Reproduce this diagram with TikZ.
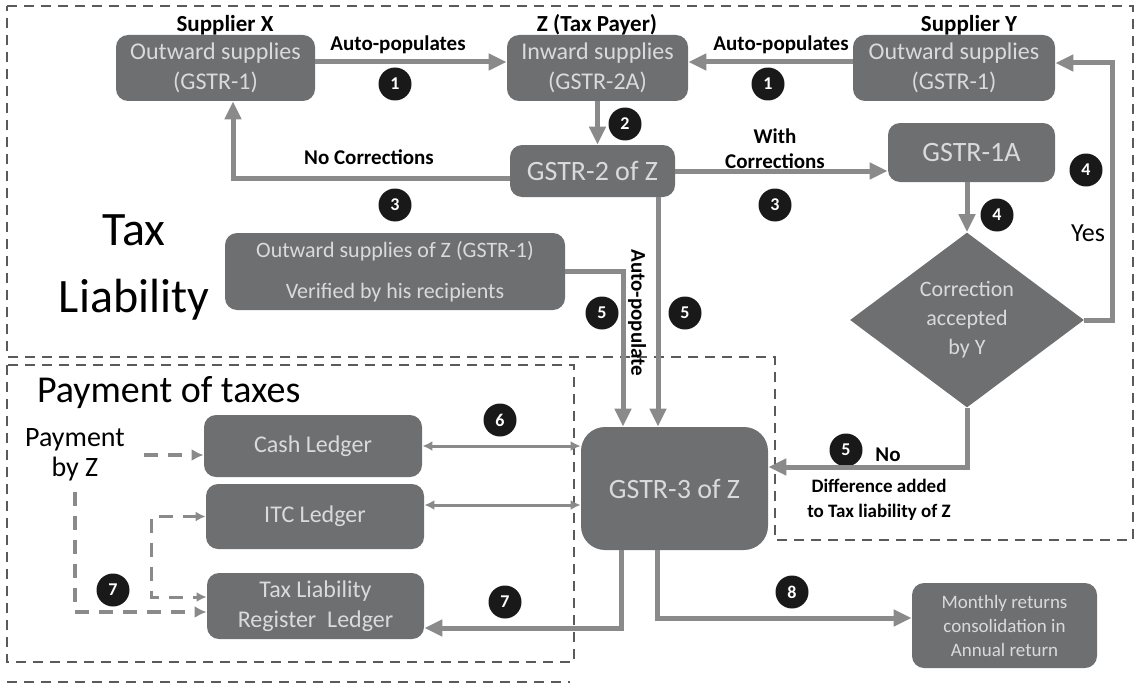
\documentclass[tikz,border=0pt]{standalone}
\usepackage{fontspec}
\setmainfont{Carlito}
\usepackage{tikz}
\usetikzlibrary{arrows.meta,positioning,shapes.geometric,calc}
\definecolor{gstBox}{HTML}{6E6F71}
\definecolor{gstText}{HTML}{DADADA}
\definecolor{gstLine}{HTML}{8A8A8A}
\definecolor{gstDash}{HTML}{5A5A5A}

\begin{document}
\begin{tikzpicture}[x=0.5pt, y=-0.5pt,
  box/.style={fill=gstBox, rounded corners=6pt, text=gstText, align=center, inner sep=0pt, font=\fontsize{12}{15}\selectfont},
  bigbox/.style={box, font=\fontsize{14}{16}\selectfont},
  decision/.style={diamond, fill=gstBox, text=gstText, align=center, inner sep=0pt, font=\fontsize{11}{14.5}\selectfont, minimum width=117pt, minimum height=87.5pt},
  lbl/.style={font=\bfseries\fontsize{10.5}{12.5}\selectfont, align=center, inner sep=0pt},
  num/.style={circle, fill=black!90, text=white, font=\bfseries\fontsize{9}{9}\selectfont, minimum size=16.5pt, inner sep=0pt},
  arr/.style={-{Triangle[length=9pt,width=8pt]}, line width=2.5pt, color=gstLine},
  twoarr/.style={{Latex[length=5pt,width=5pt]}-{Latex[length=5pt,width=5pt]}, line width=1.5pt, color=gstLine},
  payarr/.style={-{Latex[length=6pt,width=6pt]}, line width=2pt, color=gstLine, dash pattern=on 7pt off 5pt},
  region/.style={draw=gstDash, line width=1pt, dash pattern=on 5pt off 3.5pt}
]
  \useasboundingbox (0,0) rectangle (1139,690);

  % dashed regions
  \draw[region] (7,6) -- (1133,6) -- (1133,540) -- (775,540) -- (775,357) -- (7,357) -- cycle;
  \draw[region] (7,365) rectangle (574,662);
  \draw[region] (7,682) -- (570,682);

  % boxes
  \node[box, minimum width=99.5pt, minimum height=33pt] (supX) at (215.5,68) {Outward supplies\\(GSTR-1)};
  \node[box, minimum width=90.5pt, minimum height=33pt] (inward) at (597.5,68) {Inward supplies\\(GSTR-2A)};
  \node[box, minimum width=101pt, minimum height=33pt] (supY) at (954,68) {Outward supplies\\(GSTR-1)};
  \node[bigbox, minimum width=82.5pt, minimum height=26pt] (gstr2) at (592.5,171) {GSTR-2 of Z};
  \node[bigbox, minimum width=83.5pt, minimum height=29.5pt] (gstr1a) at (971.5,152.5) {GSTR-1A};
  \node[decision] (accept) at (967,320) {Correction\\accepted\\by Y};
  \node[box, minimum width=170pt, minimum height=38.5pt, font=\fontsize{11}{20.5}\selectfont] (outZ) at (395,271.5) {Outward supplies of Z (GSTR-1)\\Verified by his recipients};
  \node[bigbox, minimum width=93.5pt, minimum height=61.5pt, rounded corners=12pt] (gstr3) at (674.5,488.5) {GSTR-3 of Z};
  \node[box, minimum width=109pt, minimum height=31pt] (cash) at (313,446) {Cash Ledger};
  \node[box, minimum width=109pt, minimum height=32.5pt] (itc) at (315,516.5) {ITC Ledger};
  \node[box, minimum width=108.5pt, minimum height=33pt] (tlrl) at (315.5,606) {Tax Liability\\Register\ \ Ledger};
  \node[box, minimum width=92.5pt, minimum height=42.5pt, font=\fontsize{9.5}{12}\selectfont] (annual) at (1004.5,625.5) {Monthly returns\\consolidation in\\Annual return};

  % texts
  \node[lbl, font=\bfseries\fontsize{11.5}{13}\selectfont] (supXlbl) at (225,25) {Supplier X};
  \node[lbl, font=\bfseries\fontsize{11.5}{13}\selectfont] (zlbl) at (597,25) {Z (Tax Payer)};
  \node[lbl, font=\bfseries\fontsize{11.5}{13}\selectfont] (supYlbl) at (969,25) {Supplier Y};
  \node[lbl] (autoX) at (398,45) {Auto-populates};
  \node[lbl] (autoY) at (781,45) {Auto-populates};
  \node[lbl] (nocorr) at (369,157) {No Corrections};
  \node[lbl] (withcorr) at (775,149) {With\\Corrections};
  \node[lbl, rotate=-90] (autopop) at (637,313) {Auto-populate};
  \node[font=\fontsize{13}{15}\selectfont] (yes) at (1088,233) {Yes};
  \node[lbl] (no) at (888,455) {No};
  \node[lbl, font=\bfseries\fontsize{9.5}{12.5}\selectfont] (diff) at (879,500) {Difference added\\to Tax liability of Z};
  \node[font=\fontsize{24}{33.5}\selectfont, align=center] (taxliab) at (134,267) {Tax\\Liability};
  \node[font=\fontsize{19}{22}\selectfont, anchor=west] (paytitle) at (30,393) {Payment of taxes};
  \node[font=\fontsize{14}{15}\selectfont, align=center] (payZ) at (75,455) {Payment\\by Z};

  % step numbers
  \foreach \n/\x/\y/\name in {1/395/84/nA, 1/768/84/nB, 2/625/124/nC, 3/395/205/nD, 3/775/205/nE,
      4/997/215/nF, 4/1086/170/nG, 5/602/313/nH, 5/685/313/nI, 5/846/450/nJ,
      6/500/420/nK, 7/113/590/nL, 7/505/602/nM, 8/792/592/nN}
    \node[num] (\name) at (\x,\y) {\n};

  \coordinate (yescorner) at (1112,63);
  \coordinate (brk) at (151,557);

  % connectors
  \draw[arr] ([yshift=3pt]supX.east) -- ([yshift=3pt]inward.west);
  \draw[arr] ([yshift=3pt]supY.west) -- ([yshift=3pt]inward.east);
  \draw[arr] (inward.south) -- (inward.south |- gstr2.north);
  \draw[arr] ([yshift=-3.5pt]gstr2.west) -| ([xshift=8.75pt]supX.south);
  \draw[arr] (gstr2.east) -- (gstr2.east -| gstr1a.west);
  \draw[arr] (accept.north |- gstr1a.south) -- (accept.north);
  \draw[arr] (accept.east) -| (yescorner) -- ([yshift=2.5pt]supY.east);
  \draw[arr] (accept.south) |- ([yshift=10.75pt]gstr3.east);
  \draw[arr] (outZ.east) -| ([xshift=-25.75pt]gstr3.north);
  \draw[arr] ([xshift=-8.25pt]gstr3.north |- gstr2.south) -- ([xshift=-8.25pt]gstr3.north);
  \draw[twoarr] (cash.east) -- (cash.east -| gstr3.west);
  \draw[twoarr] ([yshift=5.75pt]itc.east) -- ([yshift=5.75pt]itc.east -| gstr3.west);
  \draw[arr] ([xshift=-26.75pt]gstr3.south) |- ([yshift=-11pt]tlrl.east);
  \draw[arr] ([xshift=-8.75pt]gstr3.south) |- ([yshift=3.75pt]annual.west);
  \draw[payarr] ([xshift=6pt]payZ.east) -- (payZ.east -| cash.west);
  \draw[payarr] ([yshift=-2pt]payZ.south) |- ([yshift=-3pt]tlrl.west);
  \draw[payarr, line width=1.5pt, {Latex[length=5pt,width=5pt]}-{Latex[length=5pt,width=5pt]}] (itc.west) -| (brk) |- ([yshift=4.5pt]tlrl.west);
\end{tikzpicture}
\end{document}
